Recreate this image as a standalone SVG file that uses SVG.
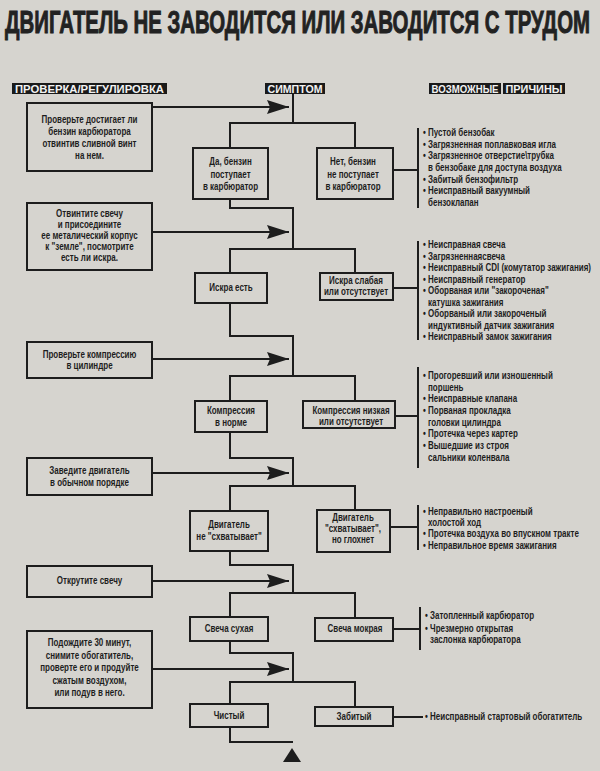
<svg xmlns="http://www.w3.org/2000/svg" width="600" height="771" viewBox="0 0 600 771">
<defs>
<style>
.t{font-family:"Liberation Sans",Arial,sans-serif;font-weight:bold;font-size:10px;fill:#1d1d1d}
.c{text-anchor:middle}
.h{font-family:"Liberation Sans",Arial,sans-serif;font-weight:bold;font-size:10px;fill:#f2f2f2;text-anchor:middle}
.box{fill:none;stroke:#1d1d1d;stroke-width:2}
.ln{fill:none;stroke:#1d1d1d;stroke-width:2}
</style>
<marker id="ah" markerUnits="userSpaceOnUse" markerWidth="23" markerHeight="14" refX="22" refY="7" orient="auto">
<path d="M0,0 L22,7 L0,14 L3,7 Z" fill="#1d1d1d"/>
</marker>
</defs>
<rect width="600" height="771" fill="#d6d4cf"/>
<g id="title" transform="translate(5 33) scale(0.6 1)">
<text x="0" y="0" textLength="975" lengthAdjust="spacingAndGlyphs" style="font-family:'Liberation Sans',Arial,sans-serif;font-weight:bold;font-size:32px;fill:#222;stroke:#222;stroke-width:1">ДВИГАТЕЛЬ НЕ ЗАВОДИТСЯ ИЛИ ЗАВОДИТСЯ С ТРУДОМ</text>
</g>

<g id="headers">
<rect x="12" y="83" width="155" height="11" fill="#1a1a1a"/>
<text class="h" x="89.5" y="92.5" textLength="149" lengthAdjust="spacingAndGlyphs">ПРОВЕРКА/РЕГУЛИРОВКА</text>
<rect x="265" y="83" width="60" height="11" fill="#1a1a1a"/>
<text class="h" x="295" y="92.5" textLength="55" lengthAdjust="spacingAndGlyphs">СИМПТОМ</text>
<rect x="429" y="83" width="72" height="11" fill="#1a1a1a"/>
<text class="h" x="465" y="92.5" textLength="67" lengthAdjust="spacingAndGlyphs">ВОЗМОЖНЫЕ</text>
<rect x="503" y="83" width="62" height="11" fill="#1a1a1a"/>
<text class="h" x="534" y="92.5" textLength="57" lengthAdjust="spacingAndGlyphs">ПРИЧИНЫ</text>
</g>

<g id="connectors">
<path class="ln" d="M293,94 V123 M230,148 V123 H355 V148 M230,199 V208 H293 V249 M230,273 V249 H355 V273 M230,303 V336 H293 V376 M230,401 V376 H355 V401 M230,432 V458 H293 V486 M230,511 V486 H355 V510 M230,551 V565 H293 V593 M230,617 V593 H355 V618 M230,641 V653 H293 V682 M230,704 V682 H355 V707 M230,727 V742 H293"/>
<path class="ln" d="M393,170 H418 M418,128 V208 M393,288 H418 M418,241 V340 M395,416 H418 M418,367 V468 M390,527 H418 M418,505 V550 M393,629 H420 M420,607 V650 M393,717 H423"/>
<path class="ln" d="M152,107 H289" marker-end="url(#ah)"/>
<path class="ln" d="M152,232 H289" marker-end="url(#ah)"/>
<path class="ln" d="M152,359 H289" marker-end="url(#ah)"/>
<path class="ln" d="M152,473 H289" marker-end="url(#ah)"/>
<path class="ln" d="M152,581 H289" marker-end="url(#ah)"/>
<path class="ln" d="M152,669 H289" marker-end="url(#ah)"/>
<path d="M283,762 L301,762 L292,748 Z" fill="#1d1d1d"/>
</g>

<g id="check1">
<rect class="box" x="27" y="103" width="125" height="68"/>
<g transform="translate(89.5 0) scale(0.8 1)"><text class="t c"><tspan x="0" y="123.5">Проверьте достигает ли</tspan><tspan x="0" y="135.5">бензин карбюратора</tspan><tspan x="0" y="147.5">отвинтив сливной винт</tspan><tspan x="0" y="159.5">на нем.</tspan></text></g>
</g>
<g id="check2">
<rect class="box" x="27" y="203" width="125" height="67"/>
<g transform="translate(89.5 0) scale(0.8 1)"><text class="t c"><tspan x="0" y="217.5">Отвинтите свечу</tspan><tspan x="0" y="228.5">и присоедините</tspan><tspan x="0" y="239.5">ее металический корпус</tspan><tspan x="0" y="250.5">к "земле", посмотрите</tspan><tspan x="0" y="261.5">есть ли искра.</tspan></text></g>
</g>
<g id="check3">
<rect class="box" x="27" y="342" width="125" height="36"/>
<g transform="translate(89.5 0) scale(0.8 1)"><text class="t c"><tspan x="0" y="358.5">Проверьте компрессию</tspan><tspan x="0" y="369.5">в цилиндре</tspan></text></g>
</g>
<g id="check4">
<rect class="box" x="27" y="458" width="125" height="37"/>
<g transform="translate(89.5 0) scale(0.8 1)"><text class="t c"><tspan x="0" y="474.5">Заведите двигатель</tspan><tspan x="0" y="486.5">в обычном порядке</tspan></text></g>
</g>
<g id="check5">
<rect class="box" x="27" y="566" width="125" height="31"/>
<g transform="translate(89.5 0) scale(0.8 1)"><text class="t c"><tspan x="0" y="584.5">Открутите свечу</tspan></text></g>
</g>
<g id="check6">
<rect class="box" x="27" y="631" width="125" height="77"/>
<g transform="translate(89.5 0) scale(0.8 1)"><text class="t c"><tspan x="0" y="646.5">Подождите 30 минут,</tspan><tspan x="0" y="659">снимите обогатитель,</tspan><tspan x="0" y="671.5">проверте его и продуйте</tspan><tspan x="0" y="684">сжатым воздухом,</tspan><tspan x="0" y="696.5">или подув в него.</tspan></text></g>
</g>

<g id="fuel-yes">
<rect class="box" x="193" y="148" width="75" height="51"/>
<g transform="translate(230.5 0) scale(0.8 1)"><text class="t c"><tspan x="0" y="165.5">Да, бензин</tspan><tspan x="0" y="178">поступает</tspan><tspan x="0" y="190.5">в карбюратор</tspan></text></g>
</g>
<g id="fuel-no">
<rect class="box" x="317" y="148" width="76" height="51"/>
<g transform="translate(353 0) scale(0.8 1)"><text class="t c"><tspan x="0" y="165.5">Нет, бензин</tspan><tspan x="0" y="178">не поступает</tspan><tspan x="0" y="190.5">в карбюратор</tspan></text></g>
</g>
<g id="spark-yes">
<rect class="box" x="195" y="273" width="72" height="30"/>
<g transform="translate(231 0) scale(0.8 1)"><text class="t c"><tspan x="0" y="291.5">Искра есть</tspan></text></g>
</g>
<g id="spark-no">
<rect class="box" x="320" y="273" width="73" height="27"/>
<g transform="translate(356 0) scale(0.8 1)"><text class="t c"><tspan x="0" y="284.5">Искра слабая</tspan><tspan x="0" y="295.5">или отсутствует</tspan></text></g>
</g>
<g id="comp-ok">
<rect class="box" x="195" y="401" width="72" height="31"/>
<g transform="translate(231 0) scale(0.8 1)"><text class="t c"><tspan x="0" y="414.5">Компрессия</tspan><tspan x="0" y="426">в норме</tspan></text></g>
</g>
<g id="comp-low">
<rect class="box" x="303" y="401" width="92" height="27"/>
<g transform="translate(351 0) scale(0.8 1)"><text class="t c"><tspan x="0" y="414.5">Компрессия низкая</tspan><tspan x="0" y="425.5">или отсутствует</tspan></text></g>
</g>
<g id="start-no">
<rect class="box" x="190" y="511" width="78" height="40"/>
<g transform="translate(229 0) scale(0.8 1)"><text class="t c"><tspan x="0" y="528.5">Двигатель</tspan><tspan x="0" y="540.5">не "схватывает"</tspan></text></g>
</g>
<g id="start-stall">
<rect class="box" x="317" y="510" width="73" height="42"/>
<g transform="translate(353 0) scale(0.8 1)"><text class="t c"><tspan x="0" y="521.5">Двигатель</tspan><tspan x="0" y="532.5">"схватывает",</tspan><tspan x="0" y="543.5">но глохнет</tspan></text></g>
</g>
<g id="plug-dry">
<rect class="box" x="190" y="617" width="78" height="24"/>
<g transform="translate(229 0) scale(0.8 1)"><text class="t c"><tspan x="0" y="632.5">Свеча сухая</tspan></text></g>
</g>
<g id="plug-wet">
<rect class="box" x="315" y="618" width="78" height="23"/>
<g transform="translate(355 0) scale(0.8 1)"><text class="t c"><tspan x="0" y="632.5">Свеча мокрая</tspan></text></g>
</g>
<g id="clean">
<rect class="box" x="190" y="704" width="78" height="23"/>
<g transform="translate(229 0) scale(0.8 1)"><text class="t c"><tspan x="0" y="719">Чистый</tspan></text></g>
</g>
<g id="clogged">
<rect class="box" x="315" y="707" width="78" height="19"/>
<g transform="translate(354 0) scale(0.8 1)"><text class="t c"><tspan x="0" y="720">Забитый</tspan></text></g>
</g>

<g id="causes-fuel" transform="translate(423 0) scale(0.8 1)"><text class="t"><tspan x="0" y="136.5">• Пустой бензобак</tspan><tspan x="0" y="148">• Загрязненная поплавковая игла</tspan><tspan x="0" y="159.5">• Загрязненное отверстие\трубка</tspan><tspan x="6.3" y="171.5">в бензобаке для доступа воздуха</tspan><tspan x="0" y="183">• Забитый бензофильтр</tspan><tspan x="0" y="194.5">• Неисправный вакуумный</tspan><tspan x="6.3" y="206.5">бензоклапан</tspan></text></g>
<g id="causes-spark" transform="translate(423 0) scale(0.8 1)"><text class="t"><tspan x="0" y="248.5">• Неисправная свеча</tspan><tspan x="0" y="260">• Загрязненнаясвеча</tspan><tspan x="0" y="271.5">• Неисправный CDI (комутатор зажигания)</tspan><tspan x="0" y="283">• Неисправный генератор</tspan><tspan x="0" y="294.5">• Оборваная или "закороченая"</tspan><tspan x="6.3" y="306">катушка зажигания</tspan><tspan x="0" y="317.5">• Оборваный или закороченый</tspan><tspan x="6.3" y="329">индуктивный датчик зажигания</tspan><tspan x="0" y="340.5">• Неисправный замок зажигания</tspan></text></g>
<g id="causes-comp" transform="translate(423 0) scale(0.8 1)"><text class="t"><tspan x="0" y="379.5">• Прогоревший или изношенный</tspan><tspan x="6.3" y="391">поршень</tspan><tspan x="0" y="402.5">• Неисправные клапана</tspan><tspan x="0" y="414.5">• Порваная прокладка</tspan><tspan x="6.3" y="426">головки цилиндра</tspan><tspan x="0" y="437.5">• Протечка через картер</tspan><tspan x="0" y="449.5">• Вышедшие из строя</tspan><tspan x="6.3" y="461">сальники коленвала</tspan></text></g>
<g id="causes-stall" transform="translate(423 0) scale(0.8 1)"><text class="t"><tspan x="0" y="515.5">• Неправильно настроеный</tspan><tspan x="6.3" y="526.5">холостой ход</tspan><tspan x="0" y="537.5">• Протечка воздуха во впускном тракте</tspan><tspan x="0" y="549.5">• Неправильное время зажигания</tspan></text></g>
<g id="causes-wet" transform="translate(425 0) scale(0.8 1)"><text class="t"><tspan x="0" y="619.5">• Затопленный карбюратор</tspan><tspan x="0" y="632">• Чрезмерно открытая</tspan><tspan x="6.3" y="643.5">заслонка карбюратора</tspan></text></g>
<g id="causes-clogged" transform="translate(425 0) scale(0.8 1)"><text class="t"><tspan x="0" y="720.5">• Неисправный стартовый обогатитель</tspan></text></g>
</svg>
